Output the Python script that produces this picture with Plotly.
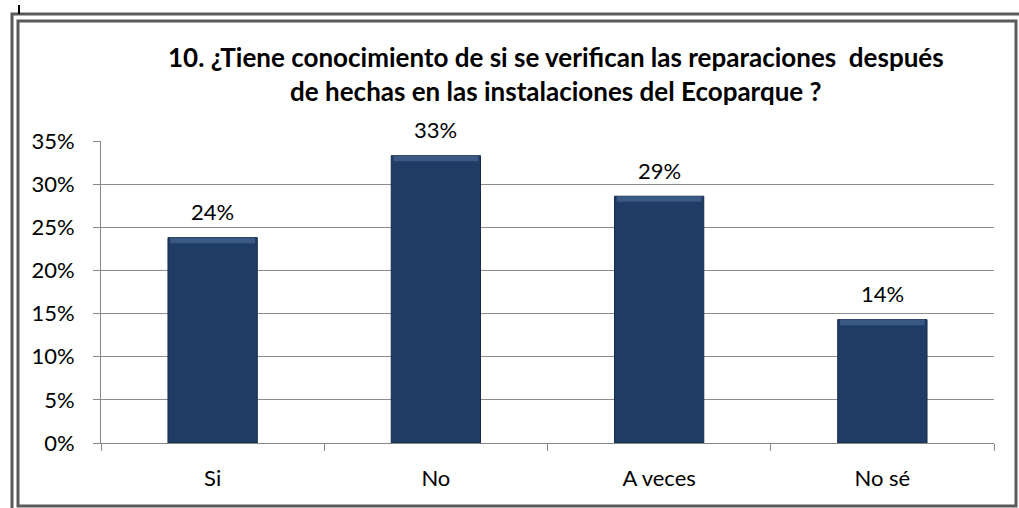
import plotly.graph_objects as go

categories = ["Si", "No", "A veces", "No sé"]
values = [0.238, 0.333, 0.286, 0.143]
y_ticks = [0, 0.05, 0.10, 0.15, 0.20, 0.25, 0.30, 0.35]
y_tick_labels = ["0%", "5%", "10%", "15%", "20%", "25%", "30%", "35%"]
title_lines = ["10. ¿Tiene conocimiento de si se verifican las reparaciones  después",
               "de hechas en las instalaciones del Ecoparque ?"]

W, H = 1019, 508
L, R, T, B = 101, 25, 141, 65
PW, PH = W - L - R, H - T - B

def px(x):
    return (x - L) / PW

def py(y):
    return (H - B - y) / PH

FONT = "Lato, Calibri, 'Open Sans', sans-serif"
BEVEL = 0.0065  # height of the lighter top bevel strip, in axis units

fig = go.Figure()
fig.add_trace(go.Bar(
    x=categories, y=values, width=0.4,
    marker=dict(color="#1F3C64", line=dict(color="#152B4A", width=1)),
    hoverinfo="skip",
))
# top bevel highlight (styling only)
fig.add_trace(go.Bar(
    x=categories, y=[BEVEL] * len(values), base=[v - BEVEL for v in values], width=0.38,
    marker=dict(color="#3A5A85", line=dict(width=0)),
    hoverinfo="skip",
))

annotations = []
for c, v in zip(categories, values):
    annotations.append(dict(x=c, y=v, xref="x", yref="y", text=f"{round(v*100):d}%",
                            showarrow=False, yshift=26,
                            font=dict(family=FONT, size=22, color="#000000")))
annotations.append(dict(x=px(556), y=py(74), xref="paper", yref="paper",
                        text="<br>".join(f"<b>{t}</b>" for t in title_lines), showarrow=False,
                        xanchor="center", yanchor="middle", align="center",
                        font=dict(family=FONT, size=26, color="#000000"),
                        ))

shapes = [
    # outer frame
    dict(type="rect", xref="paper", yref="paper", x0=px(12), y0=py(14), x1=px(1040), y1=py(530),
         line=dict(color="#5A5A5A", width=3), layer="below"),
    # inner frame
    dict(type="rect", xref="paper", yref="paper", x0=px(18), y0=py(21), x1=px(1016), y1=py(506),
         line=dict(color="#5A5A5A", width=3), fillcolor="white", layer="below"),
    # small mark top-left
    dict(type="line", xref="paper", yref="paper", x0=px(19), y0=py(5), x1=px(19), y1=py(14),
         line=dict(color="#000000", width=2)),
]

fig.update_layout(
    width=W, height=H,
    margin=dict(l=L, r=R, t=T, b=B, autoexpand=False),
    paper_bgcolor="white", plot_bgcolor="rgba(0,0,0,0)",
    showlegend=False,
    barmode="overlay",
    annotations=annotations,
    shapes=shapes,
    font=dict(family=FONT, size=22, color="#000000"),
    xaxis=dict(
        showline=True, linecolor="#868686", linewidth=1,
        ticks="outside", tickson="boundaries", ticklen=7, tickcolor="#868686",
        showgrid=False, ticklabelstandoff=16,
        tickfont=dict(family=FONT, size=22, color="#000000"),
    ),
    yaxis=dict(
        range=[0, 0.35], tickvals=y_ticks, ticktext=y_tick_labels,
        showline=True, linecolor="#868686", linewidth=1,
        ticks="outside", ticklen=7, tickcolor="#868686",
        showgrid=True, gridcolor="#8C8C8C", gridwidth=1, zeroline=False,
        ticklabelstandoff=14,
        tickfont=dict(family=FONT, size=22, color="#000000"),
    ),
)

fig.write_html("out.html", config={"displayModeBar": False},
               post_script="document.body.style.margin='0';document.body.style.overflow='hidden';")
